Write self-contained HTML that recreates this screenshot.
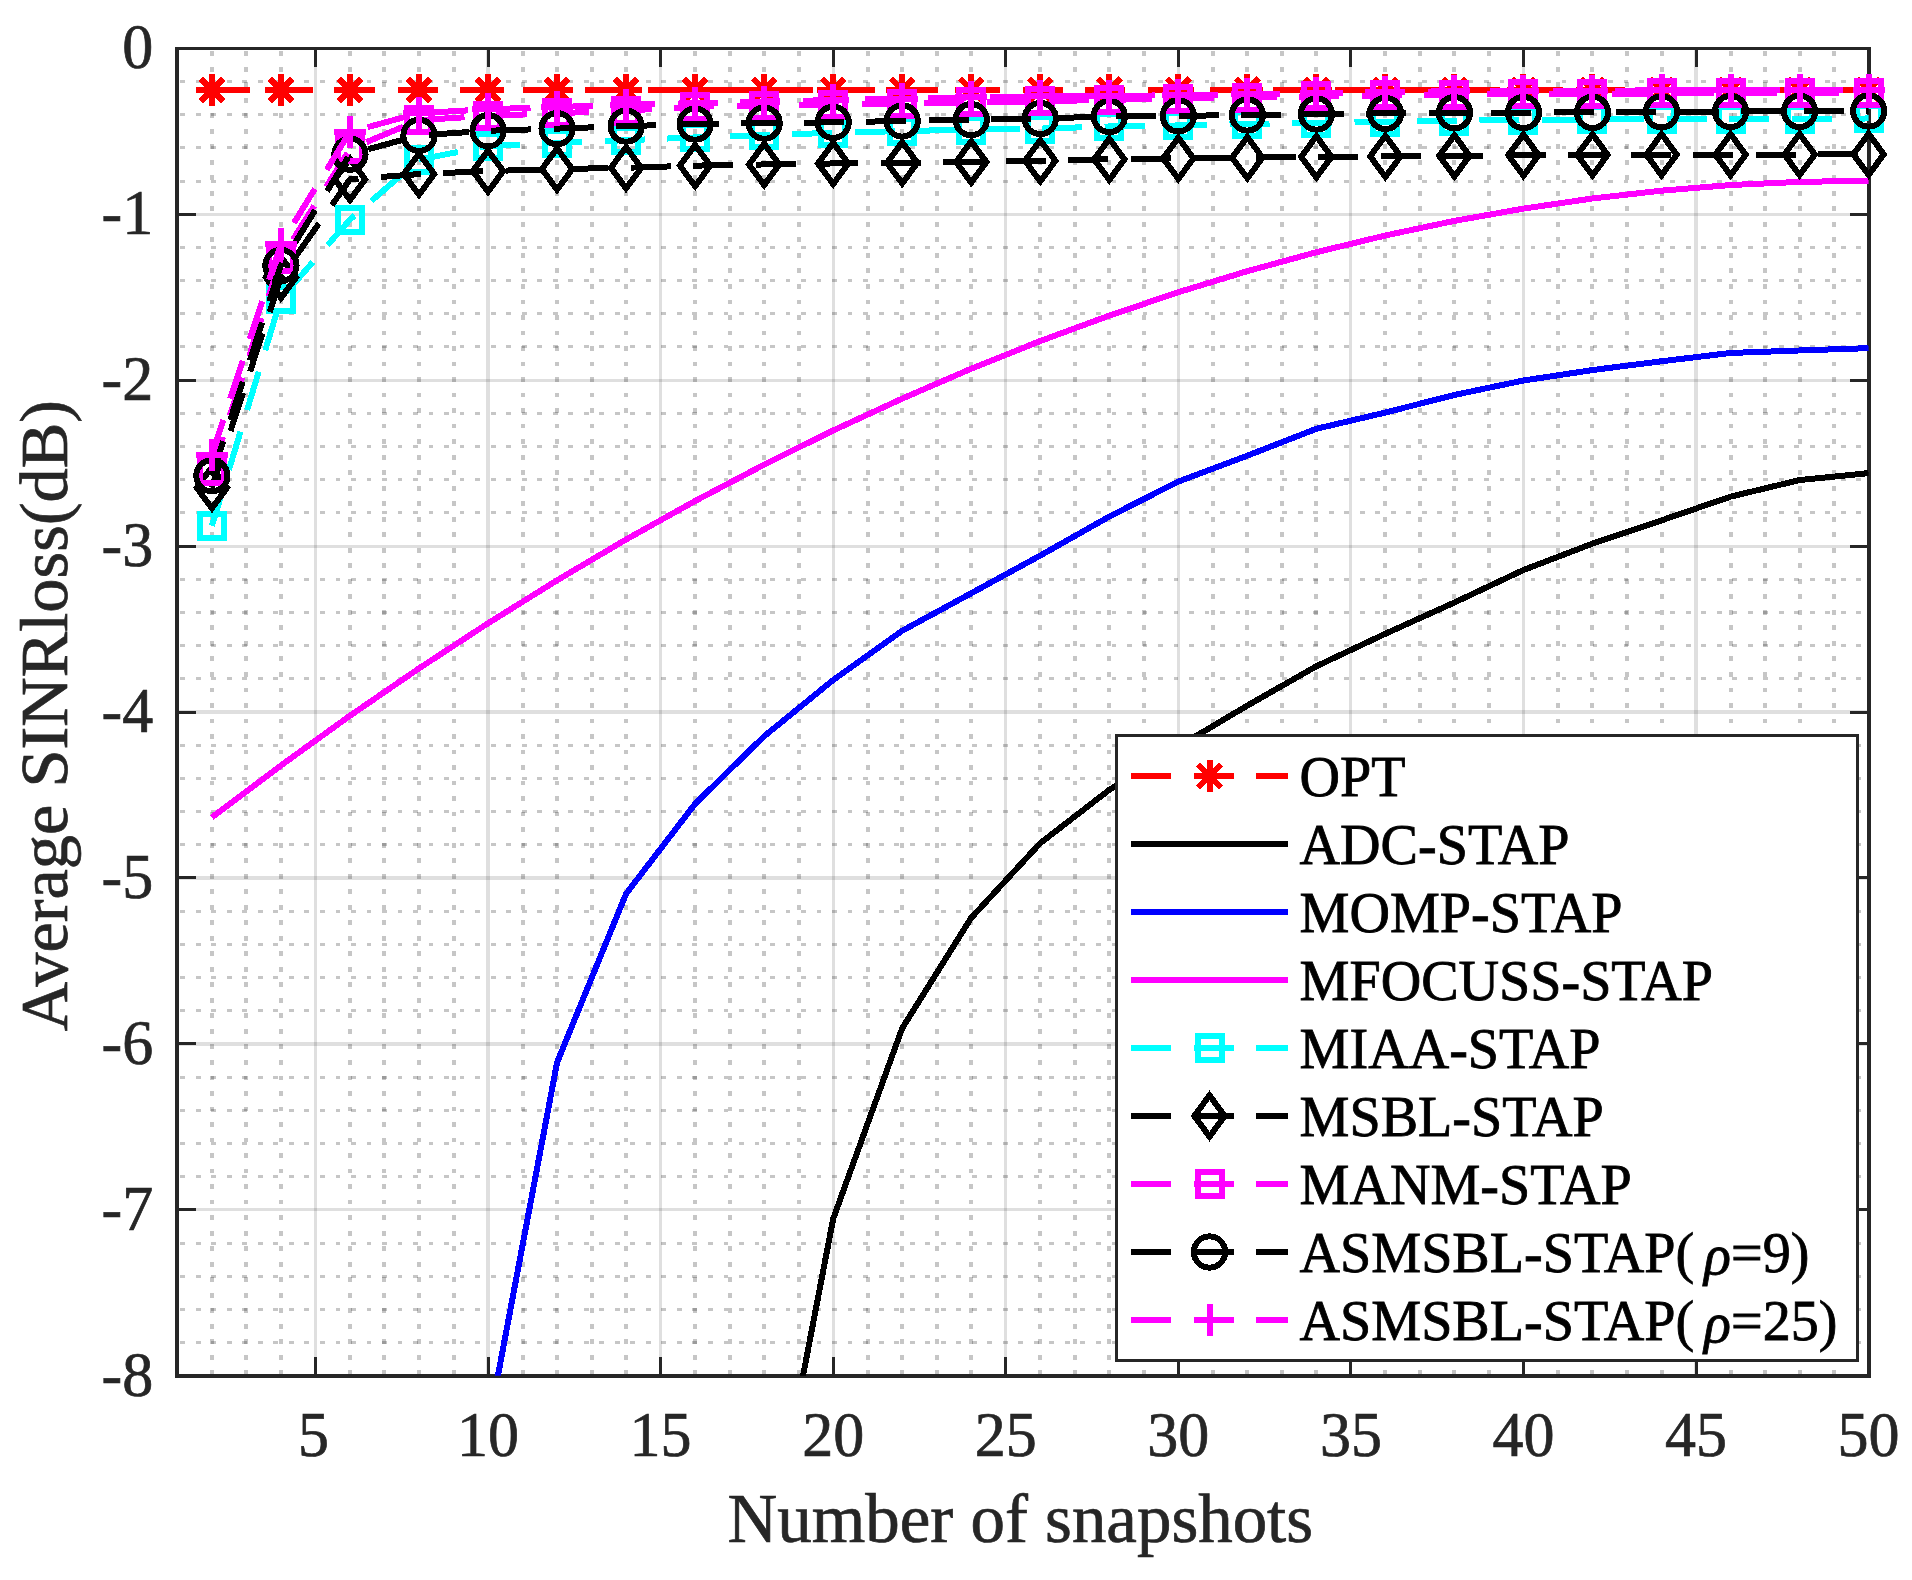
<!DOCTYPE html><html><head><meta charset="utf-8"><title>Average SINRloss versus number of snapshots</title>
<style>html,body{margin:0;padding:0;background:#fff}svg{display:block}text{font-family:"Liberation Serif","Times New Roman",serif}</style></head><body>
<svg width="1912" height="1580" viewBox="0 0 1912 1580" shape-rendering="crispEdges">
<rect x="0" y="0" width="1912" height="1580" fill="#fff"/>
<defs><clipPath id="ax"><rect x="177.40" y="48.30" width="1691.20" height="1327.50"/></clipPath></defs>
<g shape-rendering="crispEdges" stroke="#1a1a1a" stroke-opacity="0.25" stroke-width="4.0" stroke-dasharray="4.8 10.72" stroke-dashoffset="-2.9" fill="none">
<line x1="211.91" y1="48.30" x2="211.91" y2="1375.80"/>
<line x1="246.43" y1="48.30" x2="246.43" y2="1375.80"/>
<line x1="280.94" y1="48.30" x2="280.94" y2="1375.80"/>
<line x1="349.97" y1="48.30" x2="349.97" y2="1375.80"/>
<line x1="384.49" y1="48.30" x2="384.49" y2="1375.80"/>
<line x1="419.00" y1="48.30" x2="419.00" y2="1375.80"/>
<line x1="453.51" y1="48.30" x2="453.51" y2="1375.80"/>
<line x1="522.54" y1="48.30" x2="522.54" y2="1375.80"/>
<line x1="557.06" y1="48.30" x2="557.06" y2="1375.80"/>
<line x1="591.57" y1="48.30" x2="591.57" y2="1375.80"/>
<line x1="626.09" y1="48.30" x2="626.09" y2="1375.80"/>
<line x1="695.11" y1="48.30" x2="695.11" y2="1375.80"/>
<line x1="729.63" y1="48.30" x2="729.63" y2="1375.80"/>
<line x1="764.14" y1="48.30" x2="764.14" y2="1375.80"/>
<line x1="798.66" y1="48.30" x2="798.66" y2="1375.80"/>
<line x1="867.69" y1="48.30" x2="867.69" y2="1375.80"/>
<line x1="902.20" y1="48.30" x2="902.20" y2="1375.80"/>
<line x1="936.71" y1="48.30" x2="936.71" y2="1375.80"/>
<line x1="971.23" y1="48.30" x2="971.23" y2="1375.80"/>
<line x1="1040.26" y1="48.30" x2="1040.26" y2="1375.80"/>
<line x1="1074.77" y1="48.30" x2="1074.77" y2="1375.80"/>
<line x1="1109.29" y1="48.30" x2="1109.29" y2="1375.80"/>
<line x1="1143.80" y1="48.30" x2="1143.80" y2="1375.80"/>
<line x1="1212.83" y1="48.30" x2="1212.83" y2="1375.80"/>
<line x1="1247.34" y1="48.30" x2="1247.34" y2="1375.80"/>
<line x1="1281.86" y1="48.30" x2="1281.86" y2="1375.80"/>
<line x1="1316.37" y1="48.30" x2="1316.37" y2="1375.80"/>
<line x1="1385.40" y1="48.30" x2="1385.40" y2="1375.80"/>
<line x1="1419.91" y1="48.30" x2="1419.91" y2="1375.80"/>
<line x1="1454.43" y1="48.30" x2="1454.43" y2="1375.80"/>
<line x1="1488.94" y1="48.30" x2="1488.94" y2="1375.80"/>
<line x1="1557.97" y1="48.30" x2="1557.97" y2="1375.80"/>
<line x1="1592.49" y1="48.30" x2="1592.49" y2="1375.80"/>
<line x1="1627.00" y1="48.30" x2="1627.00" y2="1375.80"/>
<line x1="1661.51" y1="48.30" x2="1661.51" y2="1375.80"/>
<line x1="1730.54" y1="48.30" x2="1730.54" y2="1375.80"/>
<line x1="1765.06" y1="48.30" x2="1765.06" y2="1375.80"/>
<line x1="1799.57" y1="48.30" x2="1799.57" y2="1375.80"/>
<line x1="1834.09" y1="48.30" x2="1834.09" y2="1375.80"/>
<line x1="177.40" y1="81.49" x2="1868.60" y2="81.49" stroke-width="3"/>
<line x1="177.40" y1="114.67" x2="1868.60" y2="114.67" stroke-width="3"/>
<line x1="177.40" y1="147.86" x2="1868.60" y2="147.86" stroke-width="3"/>
<line x1="177.40" y1="181.05" x2="1868.60" y2="181.05" stroke-width="3"/>
<line x1="177.40" y1="247.43" x2="1868.60" y2="247.43" stroke-width="3"/>
<line x1="177.40" y1="280.61" x2="1868.60" y2="280.61" stroke-width="3"/>
<line x1="177.40" y1="313.80" x2="1868.60" y2="313.80" stroke-width="3"/>
<line x1="177.40" y1="346.99" x2="1868.60" y2="346.99" stroke-width="3"/>
<line x1="177.40" y1="413.36" x2="1868.60" y2="413.36" stroke-width="3"/>
<line x1="177.40" y1="446.55" x2="1868.60" y2="446.55" stroke-width="3"/>
<line x1="177.40" y1="479.74" x2="1868.60" y2="479.74" stroke-width="3"/>
<line x1="177.40" y1="512.93" x2="1868.60" y2="512.93" stroke-width="3"/>
<line x1="177.40" y1="579.30" x2="1868.60" y2="579.30" stroke-width="3"/>
<line x1="177.40" y1="612.49" x2="1868.60" y2="612.49" stroke-width="3"/>
<line x1="177.40" y1="645.67" x2="1868.60" y2="645.67" stroke-width="3"/>
<line x1="177.40" y1="678.86" x2="1868.60" y2="678.86" stroke-width="3"/>
<line x1="177.40" y1="745.24" x2="1868.60" y2="745.24" stroke-width="3"/>
<line x1="177.40" y1="778.43" x2="1868.60" y2="778.43" stroke-width="3"/>
<line x1="177.40" y1="811.61" x2="1868.60" y2="811.61" stroke-width="3"/>
<line x1="177.40" y1="844.80" x2="1868.60" y2="844.80" stroke-width="3"/>
<line x1="177.40" y1="911.17" x2="1868.60" y2="911.17" stroke-width="3"/>
<line x1="177.40" y1="944.36" x2="1868.60" y2="944.36" stroke-width="3"/>
<line x1="177.40" y1="977.55" x2="1868.60" y2="977.55" stroke-width="3"/>
<line x1="177.40" y1="1010.74" x2="1868.60" y2="1010.74" stroke-width="3"/>
<line x1="177.40" y1="1077.11" x2="1868.60" y2="1077.11" stroke-width="3"/>
<line x1="177.40" y1="1110.30" x2="1868.60" y2="1110.30" stroke-width="3"/>
<line x1="177.40" y1="1143.49" x2="1868.60" y2="1143.49" stroke-width="3"/>
<line x1="177.40" y1="1176.68" x2="1868.60" y2="1176.68" stroke-width="3"/>
<line x1="177.40" y1="1243.05" x2="1868.60" y2="1243.05" stroke-width="3"/>
<line x1="177.40" y1="1276.24" x2="1868.60" y2="1276.24" stroke-width="3"/>
<line x1="177.40" y1="1309.42" x2="1868.60" y2="1309.42" stroke-width="3"/>
<line x1="177.40" y1="1342.61" x2="1868.60" y2="1342.61" stroke-width="3"/>
</g>
<g shape-rendering="crispEdges" stroke="#262626" stroke-opacity="0.15" stroke-width="3.2" fill="none">
<line x1="315.46" y1="48.30" x2="315.46" y2="1375.80"/>
<line x1="488.03" y1="48.30" x2="488.03" y2="1375.80"/>
<line x1="660.60" y1="48.30" x2="660.60" y2="1375.80"/>
<line x1="833.17" y1="48.30" x2="833.17" y2="1375.80"/>
<line x1="1005.74" y1="48.30" x2="1005.74" y2="1375.80"/>
<line x1="1178.31" y1="48.30" x2="1178.31" y2="1375.80"/>
<line x1="1350.89" y1="48.30" x2="1350.89" y2="1375.80"/>
<line x1="1523.46" y1="48.30" x2="1523.46" y2="1375.80"/>
<line x1="1696.03" y1="48.30" x2="1696.03" y2="1375.80"/>
<line x1="177.40" y1="214.24" x2="1868.60" y2="214.24"/>
<line x1="177.40" y1="380.18" x2="1868.60" y2="380.18"/>
<line x1="177.40" y1="546.11" x2="1868.60" y2="546.11"/>
<line x1="177.40" y1="712.05" x2="1868.60" y2="712.05"/>
<line x1="177.40" y1="877.99" x2="1868.60" y2="877.99"/>
<line x1="177.40" y1="1043.92" x2="1868.60" y2="1043.92"/>
<line x1="177.40" y1="1209.86" x2="1868.60" y2="1209.86"/>
</g>
<g shape-rendering="crispEdges" stroke="#262626" stroke-width="3" fill="none">
<line x1="315.46" y1="1375.80" x2="315.46" y2="1357.10"/>
<line x1="315.46" y1="48.30" x2="315.46" y2="67.00"/>
<line x1="488.03" y1="1375.80" x2="488.03" y2="1357.10"/>
<line x1="488.03" y1="48.30" x2="488.03" y2="67.00"/>
<line x1="660.60" y1="1375.80" x2="660.60" y2="1357.10"/>
<line x1="660.60" y1="48.30" x2="660.60" y2="67.00"/>
<line x1="833.17" y1="1375.80" x2="833.17" y2="1357.10"/>
<line x1="833.17" y1="48.30" x2="833.17" y2="67.00"/>
<line x1="1005.74" y1="1375.80" x2="1005.74" y2="1357.10"/>
<line x1="1005.74" y1="48.30" x2="1005.74" y2="67.00"/>
<line x1="1178.31" y1="1375.80" x2="1178.31" y2="1357.10"/>
<line x1="1178.31" y1="48.30" x2="1178.31" y2="67.00"/>
<line x1="1350.89" y1="1375.80" x2="1350.89" y2="1357.10"/>
<line x1="1350.89" y1="48.30" x2="1350.89" y2="67.00"/>
<line x1="1523.46" y1="1375.80" x2="1523.46" y2="1357.10"/>
<line x1="1523.46" y1="48.30" x2="1523.46" y2="67.00"/>
<line x1="1696.03" y1="1375.80" x2="1696.03" y2="1357.10"/>
<line x1="1696.03" y1="48.30" x2="1696.03" y2="67.00"/>
<line x1="177.40" y1="214.24" x2="196.10" y2="214.24"/>
<line x1="1868.60" y1="214.24" x2="1849.90" y2="214.24"/>
<line x1="177.40" y1="380.18" x2="196.10" y2="380.18"/>
<line x1="1868.60" y1="380.18" x2="1849.90" y2="380.18"/>
<line x1="177.40" y1="546.11" x2="196.10" y2="546.11"/>
<line x1="1868.60" y1="546.11" x2="1849.90" y2="546.11"/>
<line x1="177.40" y1="712.05" x2="196.10" y2="712.05"/>
<line x1="1868.60" y1="712.05" x2="1849.90" y2="712.05"/>
<line x1="177.40" y1="877.99" x2="196.10" y2="877.99"/>
<line x1="1868.60" y1="877.99" x2="1849.90" y2="877.99"/>
<line x1="177.40" y1="1043.92" x2="196.10" y2="1043.92"/>
<line x1="1868.60" y1="1043.92" x2="1849.90" y2="1043.92"/>
<line x1="177.40" y1="1209.86" x2="196.10" y2="1209.86"/>
<line x1="1868.60" y1="1209.86" x2="1849.90" y2="1209.86"/>
</g>
<g shape-rendering="crispEdges" stroke="#262626" fill="none">
<line x1="177" y1="47" x2="177" y2="1378" stroke-width="4"/>
<line x1="1868.7" y1="47" x2="1868.7" y2="1378" stroke-width="3.6"/>
<line x1="175" y1="48.5" x2="1870.5" y2="48.5" stroke-width="3"/>
<line x1="175" y1="1376" x2="1870.5" y2="1376" stroke-width="4"/>
</g>
<polyline clip-path="url(#ax)" points="211.91,89.90 280.94,89.90 349.97,89.90 419.00,89.90 488.03,89.90 557.06,89.90 626.09,89.90 695.11,89.90 764.14,89.90 833.17,89.90 902.20,89.90 971.23,89.90 1040.26,89.90 1109.29,89.90 1178.31,89.90 1247.34,89.90 1316.37,89.90 1385.40,89.90 1454.43,89.90 1523.46,89.90 1592.49,89.90 1661.51,89.90 1730.54,89.90 1799.57,89.90 1868.60,89.90" fill="none" stroke="#ff0000" stroke-width="6.0" stroke-linejoin="round" stroke-dasharray="40 22.5" stroke-dashoffset="1.5"/>
<g>
<path d="M195.91 89.90H227.91M211.91 73.90V105.90M200.60 78.59L223.23 101.21M200.60 101.21L223.23 78.59" stroke="#ff0000" stroke-width="6" fill="none"/>
<path d="M264.94 89.90H296.94M280.94 73.90V105.90M269.63 78.59L292.26 101.21M269.63 101.21L292.26 78.59" stroke="#ff0000" stroke-width="6" fill="none"/>
<path d="M333.97 89.90H365.97M349.97 73.90V105.90M338.66 78.59L361.29 101.21M338.66 101.21L361.29 78.59" stroke="#ff0000" stroke-width="6" fill="none"/>
<path d="M403.00 89.90H435.00M419.00 73.90V105.90M407.69 78.59L430.31 101.21M407.69 101.21L430.31 78.59" stroke="#ff0000" stroke-width="6" fill="none"/>
<path d="M472.03 89.90H504.03M488.03 73.90V105.90M476.71 78.59L499.34 101.21M476.71 101.21L499.34 78.59" stroke="#ff0000" stroke-width="6" fill="none"/>
<path d="M541.06 89.90H573.06M557.06 73.90V105.90M545.74 78.59L568.37 101.21M545.74 101.21L568.37 78.59" stroke="#ff0000" stroke-width="6" fill="none"/>
<path d="M610.09 89.90H642.09M626.09 73.90V105.90M614.77 78.59L637.40 101.21M614.77 101.21L637.40 78.59" stroke="#ff0000" stroke-width="6" fill="none"/>
<path d="M679.11 89.90H711.11M695.11 73.90V105.90M683.80 78.59L706.43 101.21M683.80 101.21L706.43 78.59" stroke="#ff0000" stroke-width="6" fill="none"/>
<path d="M748.14 89.90H780.14M764.14 73.90V105.90M752.83 78.59L775.46 101.21M752.83 101.21L775.46 78.59" stroke="#ff0000" stroke-width="6" fill="none"/>
<path d="M817.17 89.90H849.17M833.17 73.90V105.90M821.86 78.59L844.49 101.21M821.86 101.21L844.49 78.59" stroke="#ff0000" stroke-width="6" fill="none"/>
<path d="M886.20 89.90H918.20M902.20 73.90V105.90M890.89 78.59L913.51 101.21M890.89 101.21L913.51 78.59" stroke="#ff0000" stroke-width="6" fill="none"/>
<path d="M955.23 89.90H987.23M971.23 73.90V105.90M959.91 78.59L982.54 101.21M959.91 101.21L982.54 78.59" stroke="#ff0000" stroke-width="6" fill="none"/>
<path d="M1024.26 89.90H1056.26M1040.26 73.90V105.90M1028.94 78.59L1051.57 101.21M1028.94 101.21L1051.57 78.59" stroke="#ff0000" stroke-width="6" fill="none"/>
<path d="M1093.29 89.90H1125.29M1109.29 73.90V105.90M1097.97 78.59L1120.60 101.21M1097.97 101.21L1120.60 78.59" stroke="#ff0000" stroke-width="6" fill="none"/>
<path d="M1162.31 89.90H1194.31M1178.31 73.90V105.90M1167.00 78.59L1189.63 101.21M1167.00 101.21L1189.63 78.59" stroke="#ff0000" stroke-width="6" fill="none"/>
<path d="M1231.34 89.90H1263.34M1247.34 73.90V105.90M1236.03 78.59L1258.66 101.21M1236.03 101.21L1258.66 78.59" stroke="#ff0000" stroke-width="6" fill="none"/>
<path d="M1300.37 89.90H1332.37M1316.37 73.90V105.90M1305.06 78.59L1327.69 101.21M1305.06 101.21L1327.69 78.59" stroke="#ff0000" stroke-width="6" fill="none"/>
<path d="M1369.40 89.90H1401.40M1385.40 73.90V105.90M1374.09 78.59L1396.71 101.21M1374.09 101.21L1396.71 78.59" stroke="#ff0000" stroke-width="6" fill="none"/>
<path d="M1438.43 89.90H1470.43M1454.43 73.90V105.90M1443.11 78.59L1465.74 101.21M1443.11 101.21L1465.74 78.59" stroke="#ff0000" stroke-width="6" fill="none"/>
<path d="M1507.46 89.90H1539.46M1523.46 73.90V105.90M1512.14 78.59L1534.77 101.21M1512.14 101.21L1534.77 78.59" stroke="#ff0000" stroke-width="6" fill="none"/>
<path d="M1576.49 89.90H1608.49M1592.49 73.90V105.90M1581.17 78.59L1603.80 101.21M1581.17 101.21L1603.80 78.59" stroke="#ff0000" stroke-width="6" fill="none"/>
<path d="M1645.51 89.90H1677.51M1661.51 73.90V105.90M1650.20 78.59L1672.83 101.21M1650.20 101.21L1672.83 78.59" stroke="#ff0000" stroke-width="6" fill="none"/>
<path d="M1714.54 89.90H1746.54M1730.54 73.90V105.90M1719.23 78.59L1741.86 101.21M1719.23 101.21L1741.86 78.59" stroke="#ff0000" stroke-width="6" fill="none"/>
<path d="M1783.57 89.90H1815.57M1799.57 73.90V105.90M1788.26 78.59L1810.89 101.21M1788.26 101.21L1810.89 78.59" stroke="#ff0000" stroke-width="6" fill="none"/>
<path d="M1852.60 89.90H1884.60M1868.60 73.90V105.90M1857.29 78.59L1879.91 101.21M1857.29 101.21L1879.91 78.59" stroke="#ff0000" stroke-width="6" fill="none"/>
</g>
<polyline clip-path="url(#ax)" points="211.91,4030.80 280.94,3201.11 349.97,2620.33 419.00,2205.49 488.03,1956.58 557.06,1807.24 626.09,1707.67 695.11,1641.30 764.14,1578.24 833.17,1218.82 902.20,1028.16 971.23,917.81 1040.26,843.14 1109.29,789.87 1178.31,746.56 1247.34,705.58 1316.37,666.25 1385.40,633.73 1454.43,602.53 1523.46,570.01 1592.49,543.62 1661.51,520.39 1730.54,496.66 1799.57,480.07 1868.60,473.10" fill="none" stroke="#000000" stroke-width="6.0" stroke-linejoin="round"/>
<polyline clip-path="url(#ax)" points="211.91,3367.05 280.94,2371.43 349.97,1873.61 419.00,1608.11 488.03,1428.07 557.06,1062.51 626.09,893.75 695.11,803.81 764.14,736.28 833.17,680.02 902.20,630.74 971.23,593.24 1040.26,555.57 1109.29,516.58 1178.31,481.56 1247.34,455.68 1316.37,428.79 1385.40,412.53 1454.43,394.94 1523.46,380.51 1592.49,370.05 1661.51,361.26 1730.54,352.96 1799.57,350.47 1868.60,348.15" fill="none" stroke="#0000ff" stroke-width="6.0" stroke-linejoin="round"/>
<polyline clip-path="url(#ax)" points="211.91,817.42 280.94,765.48 349.97,715.70 419.00,668.41 488.03,623.27 557.06,580.30 626.09,539.48 695.11,500.98 764.14,464.64 833.17,430.45 902.20,398.59 971.23,368.73 1040.26,341.01 1109.29,315.63 1178.31,292.23 1247.34,271.15 1316.37,252.24 1385.40,235.48 1454.43,220.88 1523.46,208.60 1592.49,198.47 1661.51,190.67 1730.54,185.03 1799.57,181.88 1868.60,180.72" fill="none" stroke="#ff00ff" stroke-width="6.0" stroke-linejoin="round"/>
<polyline clip-path="url(#ax)" points="211.91,525.87 280.94,298.53 349.97,219.55 419.00,159.64 488.03,146.04 557.06,142.72 626.09,140.23 695.11,137.41 764.14,135.25 833.17,132.76 902.20,131.10 971.23,129.61 1040.26,128.61 1109.29,126.46 1178.31,125.46 1247.34,123.97 1316.37,122.81 1385.40,121.64 1454.43,120.65 1523.46,119.98 1592.49,119.49 1661.51,119.16 1730.54,118.99 1799.57,118.82 1868.60,118.49" fill="none" stroke="#00ffff" stroke-width="6.0" stroke-linejoin="round" stroke-dasharray="40 22.5" stroke-dashoffset="3.9"/>
<g>
<rect x="199.91" y="513.87" width="24" height="24" stroke="#00ffff" stroke-width="6" fill="none"/>
<rect x="268.94" y="286.53" width="24" height="24" stroke="#00ffff" stroke-width="6" fill="none"/>
<rect x="337.97" y="207.55" width="24" height="24" stroke="#00ffff" stroke-width="6" fill="none"/>
<rect x="407.00" y="147.64" width="24" height="24" stroke="#00ffff" stroke-width="6" fill="none"/>
<rect x="476.03" y="134.04" width="24" height="24" stroke="#00ffff" stroke-width="6" fill="none"/>
<rect x="545.06" y="130.72" width="24" height="24" stroke="#00ffff" stroke-width="6" fill="none"/>
<rect x="614.09" y="128.23" width="24" height="24" stroke="#00ffff" stroke-width="6" fill="none"/>
<rect x="683.11" y="125.41" width="24" height="24" stroke="#00ffff" stroke-width="6" fill="none"/>
<rect x="752.14" y="123.25" width="24" height="24" stroke="#00ffff" stroke-width="6" fill="none"/>
<rect x="821.17" y="120.76" width="24" height="24" stroke="#00ffff" stroke-width="6" fill="none"/>
<rect x="890.20" y="119.10" width="24" height="24" stroke="#00ffff" stroke-width="6" fill="none"/>
<rect x="959.23" y="117.61" width="24" height="24" stroke="#00ffff" stroke-width="6" fill="none"/>
<rect x="1028.26" y="116.61" width="24" height="24" stroke="#00ffff" stroke-width="6" fill="none"/>
<rect x="1097.29" y="114.46" width="24" height="24" stroke="#00ffff" stroke-width="6" fill="none"/>
<rect x="1166.31" y="113.46" width="24" height="24" stroke="#00ffff" stroke-width="6" fill="none"/>
<rect x="1235.34" y="111.97" width="24" height="24" stroke="#00ffff" stroke-width="6" fill="none"/>
<rect x="1304.37" y="110.81" width="24" height="24" stroke="#00ffff" stroke-width="6" fill="none"/>
<rect x="1373.40" y="109.64" width="24" height="24" stroke="#00ffff" stroke-width="6" fill="none"/>
<rect x="1442.43" y="108.65" width="24" height="24" stroke="#00ffff" stroke-width="6" fill="none"/>
<rect x="1511.46" y="107.98" width="24" height="24" stroke="#00ffff" stroke-width="6" fill="none"/>
<rect x="1580.49" y="107.49" width="24" height="24" stroke="#00ffff" stroke-width="6" fill="none"/>
<rect x="1649.51" y="107.16" width="24" height="24" stroke="#00ffff" stroke-width="6" fill="none"/>
<rect x="1718.54" y="106.99" width="24" height="24" stroke="#00ffff" stroke-width="6" fill="none"/>
<rect x="1787.57" y="106.82" width="24" height="24" stroke="#00ffff" stroke-width="6" fill="none"/>
<rect x="1856.60" y="106.49" width="24" height="24" stroke="#00ffff" stroke-width="6" fill="none"/>
</g>
<polyline clip-path="url(#ax)" points="211.91,487.70 280.94,277.46 349.97,179.39 419.00,174.08 488.03,171.09 557.06,169.10 626.09,167.77 695.11,165.62 764.14,164.46 833.17,163.46 902.20,162.80 971.23,161.97 1040.26,160.81 1109.29,159.31 1178.31,158.32 1247.34,157.65 1316.37,156.82 1385.40,156.33 1454.43,155.83 1523.46,155.16 1592.49,154.83 1661.51,154.67 1730.54,154.67 1799.57,154.50 1868.60,154.33" fill="none" stroke="#000000" stroke-width="6.0" stroke-linejoin="round" stroke-dasharray="40 22.5" stroke-dashoffset="2.7"/>
<g>
<path d="M211.91 467.10L227.11 487.70L211.91 508.30L196.71 487.70Z" stroke="#000000" stroke-width="6" fill="none" stroke-linejoin="miter" stroke-miterlimit="10"/>
<path d="M280.94 256.86L296.14 277.46L280.94 298.06L265.74 277.46Z" stroke="#000000" stroke-width="6" fill="none" stroke-linejoin="miter" stroke-miterlimit="10"/>
<path d="M349.97 158.79L365.17 179.39L349.97 199.99L334.77 179.39Z" stroke="#000000" stroke-width="6" fill="none" stroke-linejoin="miter" stroke-miterlimit="10"/>
<path d="M419.00 153.48L434.20 174.08L419.00 194.68L403.80 174.08Z" stroke="#000000" stroke-width="6" fill="none" stroke-linejoin="miter" stroke-miterlimit="10"/>
<path d="M488.03 150.49L503.23 171.09L488.03 191.69L472.83 171.09Z" stroke="#000000" stroke-width="6" fill="none" stroke-linejoin="miter" stroke-miterlimit="10"/>
<path d="M557.06 148.50L572.26 169.10L557.06 189.70L541.86 169.10Z" stroke="#000000" stroke-width="6" fill="none" stroke-linejoin="miter" stroke-miterlimit="10"/>
<path d="M626.09 147.17L641.29 167.77L626.09 188.37L610.89 167.77Z" stroke="#000000" stroke-width="6" fill="none" stroke-linejoin="miter" stroke-miterlimit="10"/>
<path d="M695.11 145.02L710.31 165.62L695.11 186.22L679.91 165.62Z" stroke="#000000" stroke-width="6" fill="none" stroke-linejoin="miter" stroke-miterlimit="10"/>
<path d="M764.14 143.86L779.34 164.46L764.14 185.06L748.94 164.46Z" stroke="#000000" stroke-width="6" fill="none" stroke-linejoin="miter" stroke-miterlimit="10"/>
<path d="M833.17 142.86L848.37 163.46L833.17 184.06L817.97 163.46Z" stroke="#000000" stroke-width="6" fill="none" stroke-linejoin="miter" stroke-miterlimit="10"/>
<path d="M902.20 142.20L917.40 162.80L902.20 183.40L887.00 162.80Z" stroke="#000000" stroke-width="6" fill="none" stroke-linejoin="miter" stroke-miterlimit="10"/>
<path d="M971.23 141.37L986.43 161.97L971.23 182.57L956.03 161.97Z" stroke="#000000" stroke-width="6" fill="none" stroke-linejoin="miter" stroke-miterlimit="10"/>
<path d="M1040.26 140.21L1055.46 160.81L1040.26 181.41L1025.06 160.81Z" stroke="#000000" stroke-width="6" fill="none" stroke-linejoin="miter" stroke-miterlimit="10"/>
<path d="M1109.29 138.71L1124.49 159.31L1109.29 179.91L1094.09 159.31Z" stroke="#000000" stroke-width="6" fill="none" stroke-linejoin="miter" stroke-miterlimit="10"/>
<path d="M1178.31 137.72L1193.51 158.32L1178.31 178.92L1163.11 158.32Z" stroke="#000000" stroke-width="6" fill="none" stroke-linejoin="miter" stroke-miterlimit="10"/>
<path d="M1247.34 137.05L1262.54 157.65L1247.34 178.25L1232.14 157.65Z" stroke="#000000" stroke-width="6" fill="none" stroke-linejoin="miter" stroke-miterlimit="10"/>
<path d="M1316.37 136.22L1331.57 156.82L1316.37 177.42L1301.17 156.82Z" stroke="#000000" stroke-width="6" fill="none" stroke-linejoin="miter" stroke-miterlimit="10"/>
<path d="M1385.40 135.73L1400.60 156.33L1385.40 176.93L1370.20 156.33Z" stroke="#000000" stroke-width="6" fill="none" stroke-linejoin="miter" stroke-miterlimit="10"/>
<path d="M1454.43 135.23L1469.63 155.83L1454.43 176.43L1439.23 155.83Z" stroke="#000000" stroke-width="6" fill="none" stroke-linejoin="miter" stroke-miterlimit="10"/>
<path d="M1523.46 134.56L1538.66 155.16L1523.46 175.76L1508.26 155.16Z" stroke="#000000" stroke-width="6" fill="none" stroke-linejoin="miter" stroke-miterlimit="10"/>
<path d="M1592.49 134.23L1607.69 154.83L1592.49 175.43L1577.29 154.83Z" stroke="#000000" stroke-width="6" fill="none" stroke-linejoin="miter" stroke-miterlimit="10"/>
<path d="M1661.51 134.07L1676.71 154.67L1661.51 175.27L1646.31 154.67Z" stroke="#000000" stroke-width="6" fill="none" stroke-linejoin="miter" stroke-miterlimit="10"/>
<path d="M1730.54 134.07L1745.74 154.67L1730.54 175.27L1715.34 154.67Z" stroke="#000000" stroke-width="6" fill="none" stroke-linejoin="miter" stroke-miterlimit="10"/>
<path d="M1799.57 133.90L1814.77 154.50L1799.57 175.10L1784.37 154.50Z" stroke="#000000" stroke-width="6" fill="none" stroke-linejoin="miter" stroke-miterlimit="10"/>
<path d="M1868.60 133.73L1883.80 154.33L1868.60 174.93L1853.40 154.33Z" stroke="#000000" stroke-width="6" fill="none" stroke-linejoin="miter" stroke-miterlimit="10"/>
</g>
<polyline clip-path="url(#ax)" points="211.91,470.61 280.94,258.54 349.97,149.02 419.00,120.15 488.03,115.84 557.06,113.18 626.09,110.53 695.11,106.71 764.14,105.55 833.17,104.55 902.20,103.56 971.23,102.40 1040.26,101.40 1109.29,99.74 1178.31,98.75 1247.34,97.58 1316.37,96.26 1385.40,95.43 1454.43,94.60 1523.46,94.26 1592.49,93.77 1661.51,93.44 1730.54,93.10 1799.57,92.94 1868.60,92.77" fill="none" stroke="#ff00ff" stroke-width="6.0" stroke-linejoin="round" stroke-dasharray="40 22.5" stroke-dashoffset="4.6"/>
<g>
<rect x="199.91" y="458.61" width="24" height="24" stroke="#ff00ff" stroke-width="6" fill="none"/>
<rect x="268.94" y="246.54" width="24" height="24" stroke="#ff00ff" stroke-width="6" fill="none"/>
<rect x="337.97" y="137.02" width="24" height="24" stroke="#ff00ff" stroke-width="6" fill="none"/>
<rect x="407.00" y="108.15" width="24" height="24" stroke="#ff00ff" stroke-width="6" fill="none"/>
<rect x="476.03" y="103.84" width="24" height="24" stroke="#ff00ff" stroke-width="6" fill="none"/>
<rect x="545.06" y="101.18" width="24" height="24" stroke="#ff00ff" stroke-width="6" fill="none"/>
<rect x="614.09" y="98.53" width="24" height="24" stroke="#ff00ff" stroke-width="6" fill="none"/>
<rect x="683.11" y="94.71" width="24" height="24" stroke="#ff00ff" stroke-width="6" fill="none"/>
<rect x="752.14" y="93.55" width="24" height="24" stroke="#ff00ff" stroke-width="6" fill="none"/>
<rect x="821.17" y="92.55" width="24" height="24" stroke="#ff00ff" stroke-width="6" fill="none"/>
<rect x="890.20" y="91.56" width="24" height="24" stroke="#ff00ff" stroke-width="6" fill="none"/>
<rect x="959.23" y="90.40" width="24" height="24" stroke="#ff00ff" stroke-width="6" fill="none"/>
<rect x="1028.26" y="89.40" width="24" height="24" stroke="#ff00ff" stroke-width="6" fill="none"/>
<rect x="1097.29" y="87.74" width="24" height="24" stroke="#ff00ff" stroke-width="6" fill="none"/>
<rect x="1166.31" y="86.75" width="24" height="24" stroke="#ff00ff" stroke-width="6" fill="none"/>
<rect x="1235.34" y="85.58" width="24" height="24" stroke="#ff00ff" stroke-width="6" fill="none"/>
<rect x="1304.37" y="84.26" width="24" height="24" stroke="#ff00ff" stroke-width="6" fill="none"/>
<rect x="1373.40" y="83.43" width="24" height="24" stroke="#ff00ff" stroke-width="6" fill="none"/>
<rect x="1442.43" y="82.60" width="24" height="24" stroke="#ff00ff" stroke-width="6" fill="none"/>
<rect x="1511.46" y="82.26" width="24" height="24" stroke="#ff00ff" stroke-width="6" fill="none"/>
<rect x="1580.49" y="81.77" width="24" height="24" stroke="#ff00ff" stroke-width="6" fill="none"/>
<rect x="1649.51" y="81.44" width="24" height="24" stroke="#ff00ff" stroke-width="6" fill="none"/>
<rect x="1718.54" y="81.10" width="24" height="24" stroke="#ff00ff" stroke-width="6" fill="none"/>
<rect x="1787.57" y="80.94" width="24" height="24" stroke="#ff00ff" stroke-width="6" fill="none"/>
<rect x="1856.60" y="80.77" width="24" height="24" stroke="#ff00ff" stroke-width="6" fill="none"/>
</g>
<polyline clip-path="url(#ax)" points="211.91,475.75 280.94,265.51 349.97,154.17 419.00,135.42 488.03,130.77 557.06,128.61 626.09,126.12 695.11,124.13 764.14,123.14 833.17,122.31 902.20,120.98 971.23,119.65 1040.26,118.49 1109.29,116.50 1178.31,115.84 1247.34,115.01 1316.37,114.01 1385.40,113.35 1454.43,112.68 1523.46,112.52 1592.49,112.35 1661.51,111.85 1730.54,111.52 1799.57,111.36 1868.60,111.02" fill="none" stroke="#000000" stroke-width="6.0" stroke-linejoin="round" stroke-dasharray="40 22.5" stroke-dashoffset="3.7"/>
<g>
<circle cx="211.91" cy="475.75" r="15.6" stroke="#000000" stroke-width="6" fill="none"/>
<circle cx="280.94" cy="265.51" r="15.6" stroke="#000000" stroke-width="6" fill="none"/>
<circle cx="349.97" cy="154.17" r="15.6" stroke="#000000" stroke-width="6" fill="none"/>
<circle cx="419.00" cy="135.42" r="15.6" stroke="#000000" stroke-width="6" fill="none"/>
<circle cx="488.03" cy="130.77" r="15.6" stroke="#000000" stroke-width="6" fill="none"/>
<circle cx="557.06" cy="128.61" r="15.6" stroke="#000000" stroke-width="6" fill="none"/>
<circle cx="626.09" cy="126.12" r="15.6" stroke="#000000" stroke-width="6" fill="none"/>
<circle cx="695.11" cy="124.13" r="15.6" stroke="#000000" stroke-width="6" fill="none"/>
<circle cx="764.14" cy="123.14" r="15.6" stroke="#000000" stroke-width="6" fill="none"/>
<circle cx="833.17" cy="122.31" r="15.6" stroke="#000000" stroke-width="6" fill="none"/>
<circle cx="902.20" cy="120.98" r="15.6" stroke="#000000" stroke-width="6" fill="none"/>
<circle cx="971.23" cy="119.65" r="15.6" stroke="#000000" stroke-width="6" fill="none"/>
<circle cx="1040.26" cy="118.49" r="15.6" stroke="#000000" stroke-width="6" fill="none"/>
<circle cx="1109.29" cy="116.50" r="15.6" stroke="#000000" stroke-width="6" fill="none"/>
<circle cx="1178.31" cy="115.84" r="15.6" stroke="#000000" stroke-width="6" fill="none"/>
<circle cx="1247.34" cy="115.01" r="15.6" stroke="#000000" stroke-width="6" fill="none"/>
<circle cx="1316.37" cy="114.01" r="15.6" stroke="#000000" stroke-width="6" fill="none"/>
<circle cx="1385.40" cy="113.35" r="15.6" stroke="#000000" stroke-width="6" fill="none"/>
<circle cx="1454.43" cy="112.68" r="15.6" stroke="#000000" stroke-width="6" fill="none"/>
<circle cx="1523.46" cy="112.52" r="15.6" stroke="#000000" stroke-width="6" fill="none"/>
<circle cx="1592.49" cy="112.35" r="15.6" stroke="#000000" stroke-width="6" fill="none"/>
<circle cx="1661.51" cy="111.85" r="15.6" stroke="#000000" stroke-width="6" fill="none"/>
<circle cx="1730.54" cy="111.52" r="15.6" stroke="#000000" stroke-width="6" fill="none"/>
<circle cx="1799.57" cy="111.36" r="15.6" stroke="#000000" stroke-width="6" fill="none"/>
<circle cx="1868.60" cy="111.02" r="15.6" stroke="#000000" stroke-width="6" fill="none"/>
</g>
<polyline clip-path="url(#ax)" points="211.91,454.68 280.94,243.94 349.97,131.93 419.00,113.18 488.03,109.20 557.06,107.04 626.09,104.72 695.11,103.23 764.14,101.57 833.17,100.07 902.20,98.58 971.23,97.42 1040.26,96.26 1109.29,95.92 1178.31,95.26 1247.34,94.43 1316.37,93.10 1385.40,92.27 1454.43,91.11 1523.46,90.78 1592.49,90.61 1661.51,90.45 1730.54,90.28 1799.57,90.28 1868.60,90.12" fill="none" stroke="#ff00ff" stroke-width="6.0" stroke-linejoin="round" stroke-dasharray="40 22.5" stroke-dashoffset="3.5"/>
<g>
<path d="M195.91 454.68H227.91M211.91 438.68V470.68" stroke="#ff00ff" stroke-width="6" fill="none"/>
<path d="M264.94 243.94H296.94M280.94 227.94V259.94" stroke="#ff00ff" stroke-width="6" fill="none"/>
<path d="M333.97 131.93H365.97M349.97 115.93V147.93" stroke="#ff00ff" stroke-width="6" fill="none"/>
<path d="M403.00 113.18H435.00M419.00 97.18V129.18" stroke="#ff00ff" stroke-width="6" fill="none"/>
<path d="M472.03 109.20H504.03M488.03 93.20V125.20" stroke="#ff00ff" stroke-width="6" fill="none"/>
<path d="M541.06 107.04H573.06M557.06 91.04V123.04" stroke="#ff00ff" stroke-width="6" fill="none"/>
<path d="M610.09 104.72H642.09M626.09 88.72V120.72" stroke="#ff00ff" stroke-width="6" fill="none"/>
<path d="M679.11 103.23H711.11M695.11 87.23V119.23" stroke="#ff00ff" stroke-width="6" fill="none"/>
<path d="M748.14 101.57H780.14M764.14 85.57V117.57" stroke="#ff00ff" stroke-width="6" fill="none"/>
<path d="M817.17 100.07H849.17M833.17 84.07V116.07" stroke="#ff00ff" stroke-width="6" fill="none"/>
<path d="M886.20 98.58H918.20M902.20 82.58V114.58" stroke="#ff00ff" stroke-width="6" fill="none"/>
<path d="M955.23 97.42H987.23M971.23 81.42V113.42" stroke="#ff00ff" stroke-width="6" fill="none"/>
<path d="M1024.26 96.26H1056.26M1040.26 80.26V112.26" stroke="#ff00ff" stroke-width="6" fill="none"/>
<path d="M1093.29 95.92H1125.29M1109.29 79.92V111.92" stroke="#ff00ff" stroke-width="6" fill="none"/>
<path d="M1162.31 95.26H1194.31M1178.31 79.26V111.26" stroke="#ff00ff" stroke-width="6" fill="none"/>
<path d="M1231.34 94.43H1263.34M1247.34 78.43V110.43" stroke="#ff00ff" stroke-width="6" fill="none"/>
<path d="M1300.37 93.10H1332.37M1316.37 77.10V109.10" stroke="#ff00ff" stroke-width="6" fill="none"/>
<path d="M1369.40 92.27H1401.40M1385.40 76.27V108.27" stroke="#ff00ff" stroke-width="6" fill="none"/>
<path d="M1438.43 91.11H1470.43M1454.43 75.11V107.11" stroke="#ff00ff" stroke-width="6" fill="none"/>
<path d="M1507.46 90.78H1539.46M1523.46 74.78V106.78" stroke="#ff00ff" stroke-width="6" fill="none"/>
<path d="M1576.49 90.61H1608.49M1592.49 74.61V106.61" stroke="#ff00ff" stroke-width="6" fill="none"/>
<path d="M1645.51 90.45H1677.51M1661.51 74.45V106.45" stroke="#ff00ff" stroke-width="6" fill="none"/>
<path d="M1714.54 90.28H1746.54M1730.54 74.28V106.28" stroke="#ff00ff" stroke-width="6" fill="none"/>
<path d="M1783.57 90.28H1815.57M1799.57 74.28V106.28" stroke="#ff00ff" stroke-width="6" fill="none"/>
<path d="M1852.60 90.12H1884.60M1868.60 74.12V106.12" stroke="#ff00ff" stroke-width="6" fill="none"/>
</g>
<rect x="1116.80" y="735.80" width="740.40" height="624.70" fill="#fff" stroke="#262626" stroke-width="3.3"/>
<line x1="1131.00" y1="776.00" x2="1288.00" y2="776.00" stroke="#ff0000" stroke-width="6" stroke-dasharray="40 22.5"/>
<path d="M1193.50 776.00H1225.50M1209.50 760.00V792.00M1198.19 764.69L1220.81 787.31M1198.19 787.31L1220.81 764.69" stroke="#ff0000" stroke-width="6" fill="none"/>
<text x="1299.6" y="795.80" font-size="56.10" fill="#000" stroke="#000" stroke-width="0.8">OPT</text>
<line x1="1131.00" y1="844.00" x2="1288.00" y2="844.00" stroke="#000000" stroke-width="6"/>
<text x="1299.6" y="863.80" font-size="56.10" fill="#000" stroke="#000" stroke-width="0.8">ADC-STAP</text>
<line x1="1131.00" y1="912.00" x2="1288.00" y2="912.00" stroke="#0000ff" stroke-width="6"/>
<text x="1299.6" y="931.80" font-size="56.10" fill="#000" stroke="#000" stroke-width="0.8">MOMP-STAP</text>
<line x1="1131.00" y1="980.00" x2="1288.00" y2="980.00" stroke="#ff00ff" stroke-width="6"/>
<text x="1299.6" y="999.80" font-size="56.10" fill="#000" stroke="#000" stroke-width="0.8">MFOCUSS-STAP</text>
<line x1="1131.00" y1="1048.00" x2="1288.00" y2="1048.00" stroke="#00ffff" stroke-width="6" stroke-dasharray="40 22.5"/>
<rect x="1197.50" y="1036.00" width="24" height="24" stroke="#00ffff" stroke-width="6" fill="none"/>
<text x="1299.6" y="1067.80" font-size="56.10" fill="#000" stroke="#000" stroke-width="0.8">MIAA-STAP</text>
<line x1="1131.00" y1="1116.00" x2="1288.00" y2="1116.00" stroke="#000000" stroke-width="6" stroke-dasharray="40 22.5"/>
<path d="M1209.50 1095.40L1224.70 1116.00L1209.50 1136.60L1194.30 1116.00Z" stroke="#000000" stroke-width="6" fill="none" stroke-linejoin="miter" stroke-miterlimit="10"/>
<text x="1299.6" y="1135.80" font-size="56.10" fill="#000" stroke="#000" stroke-width="0.8">MSBL-STAP</text>
<line x1="1131.00" y1="1184.00" x2="1288.00" y2="1184.00" stroke="#ff00ff" stroke-width="6" stroke-dasharray="40 22.5"/>
<rect x="1197.50" y="1172.00" width="24" height="24" stroke="#ff00ff" stroke-width="6" fill="none"/>
<text x="1299.6" y="1203.80" font-size="56.10" fill="#000" stroke="#000" stroke-width="0.8">MANM-STAP</text>
<line x1="1131.00" y1="1252.00" x2="1288.00" y2="1252.00" stroke="#000000" stroke-width="6" stroke-dasharray="40 22.5"/>
<circle cx="1209.50" cy="1252.00" r="15.6" stroke="#000000" stroke-width="6" fill="none"/>
<text x="1299.6" y="1271.80" font-size="56.10" fill="#000" stroke="#000" stroke-width="0.8">ASMSBL-STAP(<tspan x="1704" dy="2.3" font-style="italic">ρ</tspan><tspan x="1731" dy="-2.3">=9)</tspan></text>
<line x1="1131.00" y1="1320.00" x2="1288.00" y2="1320.00" stroke="#ff00ff" stroke-width="6" stroke-dasharray="40 22.5"/>
<path d="M1193.50 1320.00H1225.50M1209.50 1304.00V1336.00" stroke="#ff00ff" stroke-width="6" fill="none"/>
<text x="1299.6" y="1339.80" font-size="56.10" fill="#000" stroke="#000" stroke-width="0.8">ASMSBL-STAP(<tspan x="1704" dy="2.3" font-style="italic">ρ</tspan><tspan x="1731" dy="-2.3">=25)</tspan></text>
<text transform="translate(313.46,1456.2) scale(1,1.03)" font-size="62.00" fill="#262626" stroke="#262626" stroke-width="0.7" text-anchor="middle">5</text>
<text transform="translate(488.03,1456.2) scale(1,1.03)" font-size="62.00" fill="#262626" stroke="#262626" stroke-width="0.7" text-anchor="middle">10</text>
<text transform="translate(660.60,1456.2) scale(1,1.03)" font-size="62.00" fill="#262626" stroke="#262626" stroke-width="0.7" text-anchor="middle">15</text>
<text transform="translate(833.17,1456.2) scale(1,1.03)" font-size="62.00" fill="#262626" stroke="#262626" stroke-width="0.7" text-anchor="middle">20</text>
<text transform="translate(1005.74,1456.2) scale(1,1.03)" font-size="62.00" fill="#262626" stroke="#262626" stroke-width="0.7" text-anchor="middle">25</text>
<text transform="translate(1178.31,1456.2) scale(1,1.03)" font-size="62.00" fill="#262626" stroke="#262626" stroke-width="0.7" text-anchor="middle">30</text>
<text transform="translate(1350.89,1456.2) scale(1,1.03)" font-size="62.00" fill="#262626" stroke="#262626" stroke-width="0.7" text-anchor="middle">35</text>
<text transform="translate(1523.46,1456.2) scale(1,1.03)" font-size="62.00" fill="#262626" stroke="#262626" stroke-width="0.7" text-anchor="middle">40</text>
<text transform="translate(1696.03,1456.2) scale(1,1.03)" font-size="62.00" fill="#262626" stroke="#262626" stroke-width="0.7" text-anchor="middle">45</text>
<text transform="translate(1868.60,1456.2) scale(1,1.03)" font-size="62.00" fill="#262626" stroke="#262626" stroke-width="0.7" text-anchor="middle">50</text>
<text transform="translate(153.2,68.30) scale(1,1.03)" font-size="62.00" fill="#262626" stroke="#262626" stroke-width="0.7" text-anchor="end">0</text>
<text transform="translate(153.2,234.24) scale(1,1.03)" font-size="62.00" fill="#262626" stroke="#262626" stroke-width="0.7" text-anchor="end">-1</text>
<text transform="translate(153.2,400.18) scale(1,1.03)" font-size="62.00" fill="#262626" stroke="#262626" stroke-width="0.7" text-anchor="end">-2</text>
<text transform="translate(153.2,566.11) scale(1,1.03)" font-size="62.00" fill="#262626" stroke="#262626" stroke-width="0.7" text-anchor="end">-3</text>
<text transform="translate(153.2,732.05) scale(1,1.03)" font-size="62.00" fill="#262626" stroke="#262626" stroke-width="0.7" text-anchor="end">-4</text>
<text transform="translate(153.2,897.99) scale(1,1.03)" font-size="62.00" fill="#262626" stroke="#262626" stroke-width="0.7" text-anchor="end">-5</text>
<text transform="translate(153.2,1063.92) scale(1,1.03)" font-size="62.00" fill="#262626" stroke="#262626" stroke-width="0.7" text-anchor="end">-6</text>
<text transform="translate(153.2,1229.86) scale(1,1.03)" font-size="62.00" fill="#262626" stroke="#262626" stroke-width="0.7" text-anchor="end">-7</text>
<text transform="translate(153.2,1395.80) scale(1,1.03)" font-size="62.00" fill="#262626" stroke="#262626" stroke-width="0.7" text-anchor="end">-8</text>
<text x="1020.3" y="1542.3" font-size="68.90" fill="#262626" stroke="#262626" stroke-width="0.7" text-anchor="middle">Number of snapshots</text>
<text transform="translate(67.0,715.5) rotate(-90)" font-size="68.40" fill="#262626" stroke="#262626" stroke-width="0.7" text-anchor="middle">Average SINRloss(dB)</text>
</svg></body></html>
